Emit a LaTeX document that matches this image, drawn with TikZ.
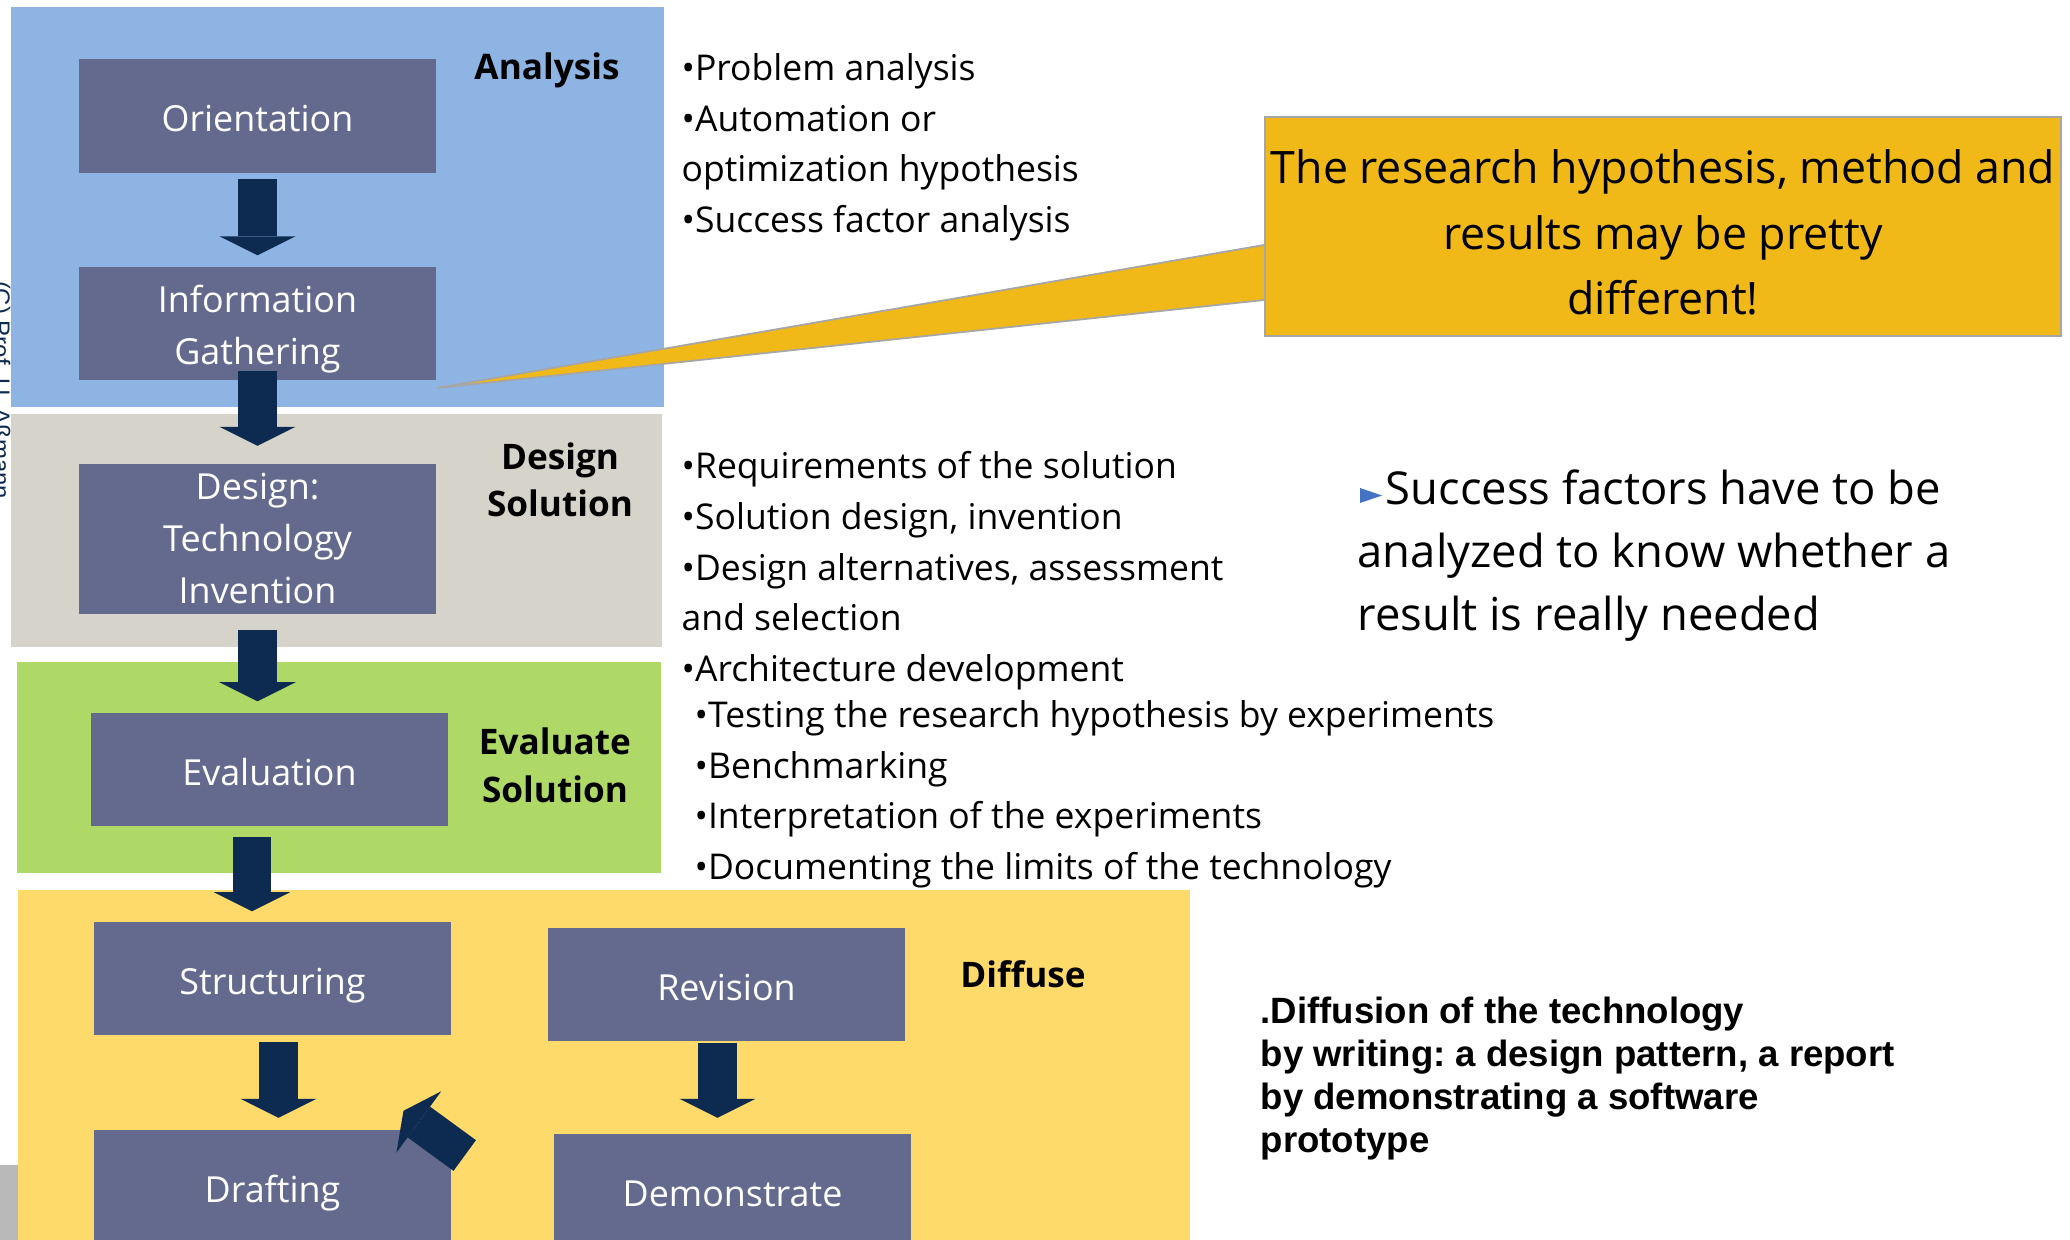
\documentclass[tikz,border=0pt]{standalone}
\usepackage{fontspec}
\setmainfont{Open Sans}
\newfontfamily\arialfont{Liberation Sans}
\usepackage{tikz}
\usetikzlibrary{arrows.meta, positioning}
\frenchspacing

\definecolor{analysisblue}{HTML}{8EB4E3}
\definecolor{designgray}{HTML}{D6D3CB}
\definecolor{evalgreen}{HTML}{AED966}
\definecolor{diffuseyellow}{HTML}{FDDA6A}
\definecolor{boxslate}{HTML}{636A8D}
\definecolor{arrownavy}{HTML}{0D2A50}
\definecolor{calloutgold}{HTML}{F0B918}
\definecolor{bulletblue}{HTML}{4472C4}

\begin{document}
\begin{tikzpicture}[x=0.01cm, y=-0.01cm,
    stepbox/.style={fill=boxslate, text=white, minimum width=3.57cm, minimum height=1.13cm,
        inner sep=0pt, align=center, font=\fontsize{10.2}{14.8}\selectfont},
    onelinebox/.style={stepbox, text height=11pt, text depth=1.9pt},
    blockarrow/.style={draw=arrownavy, line width=0.38cm,
        -{Triangle[length=0.19cm, width=0.76cm, line width=0pt]}},
    sectlabel/.style={inner sep=0pt, align=center, anchor=base, font=\bfseries\fontsize{10}{13.4}\selectfont},
    bulletlist/.style={inner sep=0pt, align=left, anchor=base west, font=\fontsize{10.1}{14.4}\selectfont}]
        \clip (0,0) rectangle (2070,1240);
        % phase backgrounds
        \fill[analysisblue] (11,7) rectangle (664,407);
        \fill[designgray] (11,414) rectangle (662,647);
        \fill[evalgreen] (17,662) rectangle (661,873);
        \fill[diffuseyellow] (18,890) rectangle (1190,1250);
        \fill[gray!55] (0,1165) rectangle (18,1240);
        \node[rotate=-90, anchor=base, inner sep=0pt, text=arrownavy, font=\arialfont\fontsize{6.8}{7}\selectfont] (copy) at (-7,390) {(C) Prof. U. Aßmann};

        % steps
        \node[onelinebox] (orient) at (257.5,116) {Orientation};
        \node[stepbox, below=0.93cm of orient, text height=24.3pt, text depth=0.8pt] (info) {Information\\Gathering};
        \node[stepbox, minimum height=1.5cm, below=0.82cm of info] (design) {Design:\\Technology\\Invention};
        \node[onelinebox] (eval) at (269.5,769.5) {Evaluation};
        \node[onelinebox] (struct) at (272.5,978.5) {Structuring};
        \node[onelinebox, below=0.93cm of struct] (draft) {Drafting};
        \node[onelinebox] (revision) at (726.5,984.5) {Revision};
        \node[onelinebox, below=0.91cm of revision, xshift=0.06cm] (demo) {Demonstrate};

        % block arrows
        \draw[blockarrow, shorten <=0.06cm, shorten >=0.11cm] (orient.south) -- (orient.south |- info.north);
        \draw[blockarrow, shorten <=-0.1cm, shorten >=0.17cm] (info.south) -- (info.south |- design.north);
        \draw[blockarrow, shorten <=0.16cm, shorten >=0.11cm] (design.south) -- (design.south |- eval.north);
        \draw[blockarrow, shorten <=0.1cm, shorten >=0.1cm] ([xshift=-0.175cm]eval.south) -- ([xshift=-0.175cm]eval.south |- struct.north);
        \draw[blockarrow, shorten <=0.06cm, shorten >=0.11cm] ([xshift=0.06cm]struct.south) -- ([xshift=0.06cm]struct.south |- draft.north);
        \draw[blockarrow, shorten <=0.01cm, shorten >=0.15cm] ([xshift=-0.09cm]revision.south) -- ([xshift=-0.09cm]revision.south |- demo.north);
        \coordinate (loopfrom) at ([xshift=0.129cm, yshift=-0.267cm]draft.north east);
        \coordinate (loopto) at ([xshift=-0.483cm, yshift=0.18cm]draft.north east);
        \draw[blockarrow] (loopfrom) -- (loopto);

        % phase names
        \node[sectlabel] (lanalysis) at (547,80) {Analysis};
        \node[sectlabel] (ldesign) at (560,517) {Design\\Solution};
        \node[sectlabel] (leval) at (555,802) {Evaluate\\Solution};
        \node[sectlabel] (ldiffuse) at (1023,987) {Diffuse};

        % activities
        \node[bulletlist] (acta) at (681,232.5) {•Problem analysis\\•Automation or\\optimization hypothesis\\•Success factor analysis};
        \node[bulletlist] (actd) at (681,681.5) {•Requirements of the solution\\•Solution design, invention\\•Design alternatives, assessment\\and selection\\•Architecture development};
        \node[bulletlist] (acte) at (694,879.5) {•Testing the research hypothesis by experiments\\•Benchmarking\\•Interpretation of the experiments\\•Documenting the limits of the technology};
        \node[inner sep=0pt, align=left, anchor=base west, font=\arialfont\bfseries\fontsize{10.4}{12.15}\selectfont] (actf) at (1260,1152)
            {.Diffusion of the technology\\by writing: a design pattern, a report\\by demonstrating a software\\prototype};

        % success factors
        \fill[bulletblue] (1360,488) -- (1382,495.5) -- (1360,503) -- cycle;
        \node[inner sep=0pt, align=left, anchor=base west, font=\fontsize{12.9}{17.8}\selectfont] (success) at (1357,630)
            {\hspace*{0.28cm}Success factors have to be\\analyzed to know whether a\\result is really needed};

        % callout
        \node[fill=calloutgold, draw=gray!70, line width=0.5pt, minimum width=7.96cm, minimum height=2.19cm, inner sep=0pt] (callout) at (1663,226.5) {};
        \coordinate (tailtip) at (437,388);
        \filldraw[fill=calloutgold, draw=gray!70, line width=0.5pt] ([yshift=-0.185cm]callout.west) -- (tailtip) -- ([yshift=-0.735cm]callout.west);
        \node[inner sep=0pt, align=center, font=\fontsize{12.7}{18.6}\selectfont] (callouttext) at ([yshift=-0.06cm]callout.center)
            {The research hypothesis, method and\\results may be pretty\\different!};
\end{tikzpicture}
\end{document}
